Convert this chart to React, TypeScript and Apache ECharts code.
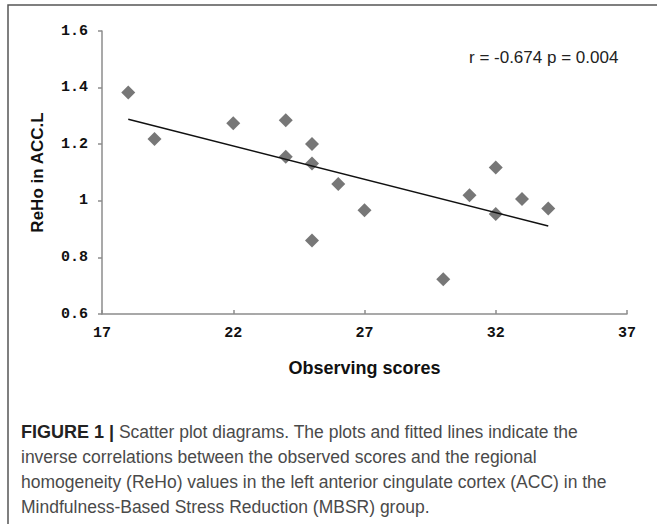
import React, { useEffect, useRef } from "react";
import * as echarts from "echarts";

// Observing scores (x) and ReHo in ACC.L (y)
const scoreX = [18, 19, 22, 24, 24, 25, 25, 25, 26, 27, 30, 31, 32, 32, 33, 34];
const rehoY = [1.383, 1.218, 1.274, 1.285, 1.156, 1.201, 1.132, 0.86, 1.059, 0.967, 0.723, 1.02, 1.118, 0.953, 1.006, 0.973];

// Fitted line end points
const fitX = [18, 34];
const fitY = [1.288, 0.911];

const xTicks = { min: 17, max: 37, interval: 5 };
const yTicks = { min: 0.6, max: 1.6, interval: 0.2 };

const annotation = "r = -0.674 p = 0.004";
const xTitle = "Observing scores";
const yTitle = "ReHo in ACC.L";
const caption =
  "{b|FIGURE 1 |} Scatter plot diagrams. The plots and fitted lines indicate the\n" +
  "inverse correlations between the observed scores and the regional\n" +
  "homogeneity (ReHo) values in the left anterior cingulate cortex (ACC) in the\n" +
  "Mindfulness-Based Stress Reduction (MBSR) group.";

export default function App() {
  const ref = useRef<HTMLDivElement>(null);

  useEffect(() => {
    document.body.style.margin = "0";
    const chart = echarts.init(ref.current!, null, { renderer: "svg" });
    const axisLine = { show: true, lineStyle: { color: "#8c8c8c", width: 1.5 } };
    const tickFont = { fontFamily: "Liberation Mono", fontWeight: "bold", fontSize: 15, color: "#111" };
    chart.setOption({
      animation: false,
      backgroundColor: "#fff",
      grid: { left: 102, right: 30, top: 31, bottom: 210, containLabel: false },
      xAxis: {
        type: "value",
        min: xTicks.min,
        max: xTicks.max,
        interval: xTicks.interval,
        name: xTitle,
        nameLocation: "middle",
        nameGap: 45,
        nameTextStyle: { fontFamily: "Liberation Sans", fontWeight: "bold", fontSize: 18, color: "#111" },
        axisLine,
        axisTick: { show: true, inside: true, length: 4, lineStyle: { color: "#8c8c8c", width: 1.5 } },
        axisLabel: { ...tickFont, margin: 12 },
        splitLine: { show: false },
      },
      yAxis: {
        type: "value",
        min: yTicks.min,
        max: yTicks.max,
        interval: yTicks.interval,
        name: yTitle,
        nameLocation: "middle",
        nameGap: 56,
        nameRotate: 90,
        nameTextStyle: { fontFamily: "Liberation Sans", fontWeight: "bold", fontSize: 17, color: "#111" },
        axisLine,
        axisTick: { show: true, inside: false, length: 4, lineStyle: { color: "#8c8c8c", width: 1.5 } },
        axisLabel: { ...tickFont, margin: 14, formatter: (v: number) => (Math.abs(v - 1) < 1e-9 ? "1" : v.toFixed(1)) },
        splitLine: { show: false },
      },
      series: [
        {
          type: "line",
          data: fitX.map((x, i) => [x, fitY[i]]),
          symbol: "none",
          lineStyle: { color: "#111", width: 1.5 },
          z: 3,
        },
        {
          type: "scatter",
          data: scoreX.map((x, i) => [x, rehoY[i]]),
          symbol: "diamond",
          symbolSize: [14, 14],
          itemStyle: { color: "#555555" },
          z: 2,
        },
      ],
      graphic: [
        {
          type: "rect",
          shape: { x: 8, y: 5, width: 700, height: 600 },
          style: { fill: "none", stroke: "#555", lineWidth: 1.5 },
          silent: true,
        },
        {
          type: "text",
          x: 469,
          y: 57,
          style: {
            text: annotation,
            fontFamily: "Liberation Sans",
            fontSize: 17,
            fill: "#222",
            verticalAlign: "middle",
          },
        },
        {
          type: "text",
          x: 21,
          y: 419,
          style: {
            text: caption,
            fontFamily: "Liberation Sans",
            fontSize: 17.5,
            lineHeight: 25,
            fill: "#4a4a4a",
            rich: {
              b: { fontFamily: "Liberation Sans", fontWeight: "bold", fontSize: 18, lineHeight: 25, fill: "#222" },
            },
          },
        },
      ],
    });
    return () => chart.dispose();
  }, []);

  return <div ref={ref} style={{ width: 657, height: 524 }} />;
}
